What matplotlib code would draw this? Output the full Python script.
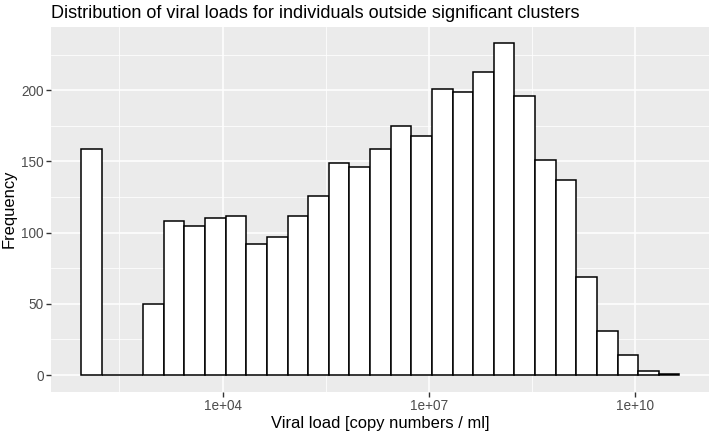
import numpy as np
import matplotlib.pyplot as plt
from matplotlib.ticker import FixedLocator, NullFormatter

# histogram of log10 viral load, 29 bins of 0.3 decades
counts = [159, 0, 0, 50, 108, 105, 110, 112, 92, 97, 112, 126, 149, 146, 159,
          175, 168, 201, 199, 213, 233, 196, 151, 137, 69, 31, 14, 3, 1]
first_edge_log10 = 1.946
bin_width_log10 = 0.3
x_breaks = [1e4, 1e7, 1e10]
x_labels = ['1e+04', '1e+07', '1e+10']
y_breaks = [0, 50, 100, 150, 200]

plt.rcParams.update({'font.family': ['Liberation Sans', 'DejaVu Sans'],
                     'axes.linewidth': 0})

edges = first_edge_log10 + bin_width_log10 * np.arange(len(counts) + 1)
left = 10 ** edges[:-1]
width = 10 ** edges[1:] - left

fig = plt.figure(figsize=(7.11, 4.34), dpi=100)
ax = fig.add_axes([0.0724, 0.0975, 0.9252, 0.841])
ax.set_facecolor('#EBEBEB')

ax.bar(left, counts, width=width, align='edge', color='white',
       edgecolor='black', linewidth=1.1, zorder=3)

ax.set_xscale('log')
lo, hi = edges[0], edges[-1]
pad = 0.05 * (hi - lo)
ax.set_xlim(10 ** (lo - pad), 10 ** (hi + pad))
ax.set_ylim(-0.05 * max(counts), 1.05 * max(counts))

ax.xaxis.set_major_locator(FixedLocator(x_breaks))
ax.set_xticklabels(x_labels)
ax.xaxis.set_minor_locator(FixedLocator([10 ** (np.log10(b) - 1.5) for b in x_breaks]))
ax.xaxis.set_minor_formatter(NullFormatter())
ax.set_yticks(y_breaks)
ax.yaxis.set_minor_locator(FixedLocator([b + 25 for b in y_breaks]))

ax.grid(which='major', color='white', linewidth=1.1, zorder=0)
ax.grid(which='minor', color='white', linewidth=0.55, zorder=0)
ax.set_axisbelow(True)
ax.tick_params(which='major', length=3.5, width=1.0, color='#333333',
               labelcolor='#4D4D4D', labelsize=9.8, pad=2)
ax.tick_params(which='minor', length=0)

ax.set_xlabel('Viral load [copy numbers / ml]', fontsize=11.9, labelpad=2)
ax.set_ylabel('Frequency', fontsize=11.9, labelpad=3)
fig.text(0.0724, 0.968, 'Distribution of viral loads for individuals outside significant clusters',
         fontsize=13, ha='left', va='center')

fig.savefig('out.png', dpi=100)
